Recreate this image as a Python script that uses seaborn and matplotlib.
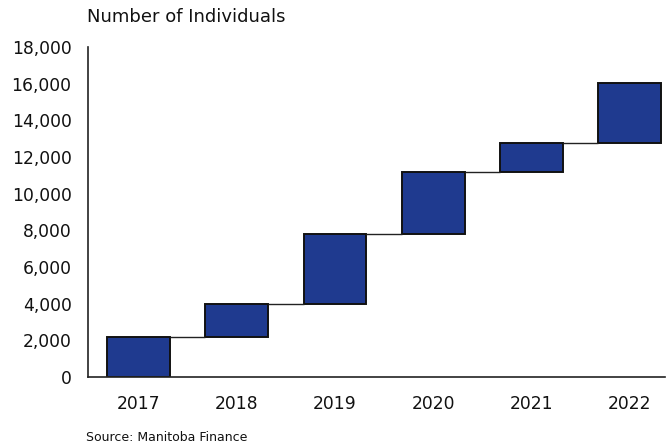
import numpy as np
import pandas as pd
import seaborn as sns
import matplotlib.pyplot as plt
from matplotlib.ticker import FuncFormatter

# datos (acumulado de individuos)
anios = ["2017", "2018", "2019", "2020", "2021", "2022"]
acumulado = [2150, 3960, 7820, 11160, 12750, 16050]

inicio = [0] + acumulado[:-1]
incremento = [a - b for a, b in zip(acumulado, inicio)]
datos = pd.DataFrame({"anio": anios, "incremento": incremento, "inicio": inicio})

sns.set_style("white")
plt.rcParams["font.family"] = ["DejaVu Sans"]

fig = plt.figure(figsize=(6.68, 4.47), dpi=100)
ax = fig.add_axes([0.132, 0.157, 0.864, 0.738])

ancho = 0.64
sns.barplot(data=datos, x="anio", y="incremento", bottom=datos["inicio"].values,
            color="#1F3A8F", saturation=1, width=ancho,
            edgecolor="#111111", linewidth=1.4, ax=ax)

# lineas de conexion entre barras
for i in range(len(anios) - 1):
    ax.hlines(acumulado[i], i + ancho / 2, i + 1 - ancho / 2, color="#222222", lw=1)

ax.set_xlim(-0.51, 5.36)
ax.set_ylim(0, 18000)
ax.set_yticks(np.arange(0, 18001, 2000))
ax.yaxis.set_major_formatter(FuncFormatter(lambda v, p: f"{int(v):,}"))
ax.set_xlabel("")
ax.set_ylabel("")
for s in ["top", "right"]:
    ax.spines[s].set_visible(False)
for s in ["left", "bottom"]:
    ax.spines[s].set_color("#222222")
    ax.spines[s].set_linewidth(1.2)
ax.tick_params(axis="both", which="both", direction="out", length=5, width=1,
               color="#222222", labelsize=12.3, labelcolor="#111111")
ax.tick_params(axis="y", pad=7)
ax.tick_params(axis="x", pad=8)

fig.text(0.13, 0.962, "Number of Individuals", fontsize=13, color="#111111", va="center")
fig.text(0.129, 0.022, "Source: Manitoba Finance", fontsize=9, color="#111111", va="center")

fig.savefig("out.png", dpi=100)
